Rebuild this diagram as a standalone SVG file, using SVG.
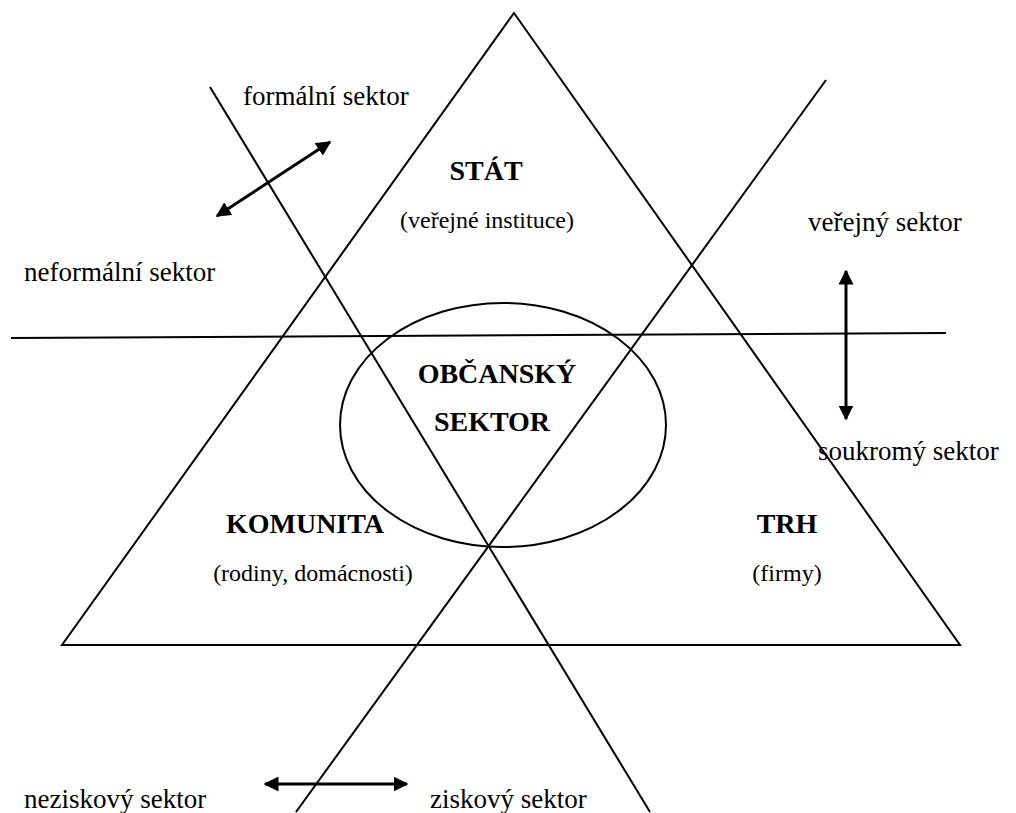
<svg xmlns="http://www.w3.org/2000/svg" width="1016" height="813" viewBox="0 0 1016 813">
<style>
.ln{stroke:#000;stroke-width:2;fill:none}
.ar{stroke:#000;stroke-width:3;fill:none}
text{font-family:"Liberation Serif","Times New Roman",serif;font-size:24px;fill:#000}
.s{font-size:27px}
.b{font-weight:bold;font-size:28px}
.m{text-anchor:middle}
</style>
<defs>
<marker id="ah" viewBox="0 0 10 10" refX="9" refY="5" markerWidth="5" markerHeight="5" orient="auto-start-reverse" markerUnits="strokeWidth">
<path d="M0,0 L10,5 L0,10 z" fill="#000"/>
</marker>
</defs>
<rect width="1016" height="813" fill="#fff"/>
<g id="shapes">
<polygon id="triangle" class="ln" points="514,13 960,645 62,645"/>
<ellipse id="circle" class="ln" cx="503" cy="425" rx="163" ry="122"/>
</g>
<g id="connectors">
<line class="ln" x1="11" y1="338" x2="946" y2="333"/>
<line class="ln" x1="210" y1="87" x2="650" y2="812"/>
<line class="ln" x1="826" y1="80" x2="296" y2="812"/>
<line class="ar" x1="217" y1="216" x2="330" y2="142" marker-start="url(#ah)" marker-end="url(#ah)"/>
<line class="ar" x1="846" y1="271" x2="846" y2="419" marker-start="url(#ah)" marker-end="url(#ah)"/>
<line class="ar" x1="265" y1="784" x2="407" y2="784" marker-start="url(#ah)" marker-end="url(#ah)"/>
</g>
<g id="labels">
<text class="s" x="243" y="105">formální sektor</text>
<text class="s" x="24" y="281">neformální sektor</text>
<text class="s" x="808" y="231">veřejný sektor</text>
<text class="s" x="818" y="460">soukromý sektor</text>
<text class="s" x="24" y="808">neziskový sektor</text>
<text class="s" x="430" y="808">ziskový sektor</text>
</g>
<g id="stat"><text class="b m" x="486" y="180">STÁT</text><text class="m" x="487" y="228">(veřejné instituce)</text></g>
<g id="obcansky"><text class="b m" x="497" y="383">OBČANSKÝ</text><text class="b m" x="492" y="431">SEKTOR</text></g>
<g id="komunita"><text class="b m" x="305" y="533">KOMUNITA</text><text class="m" x="313" y="581">(rodiny, domácnosti)</text></g>
<g id="trh"><text class="b m" x="787" y="533">TRH</text><text class="m" x="787" y="581">(firmy)</text></g>
</svg>
